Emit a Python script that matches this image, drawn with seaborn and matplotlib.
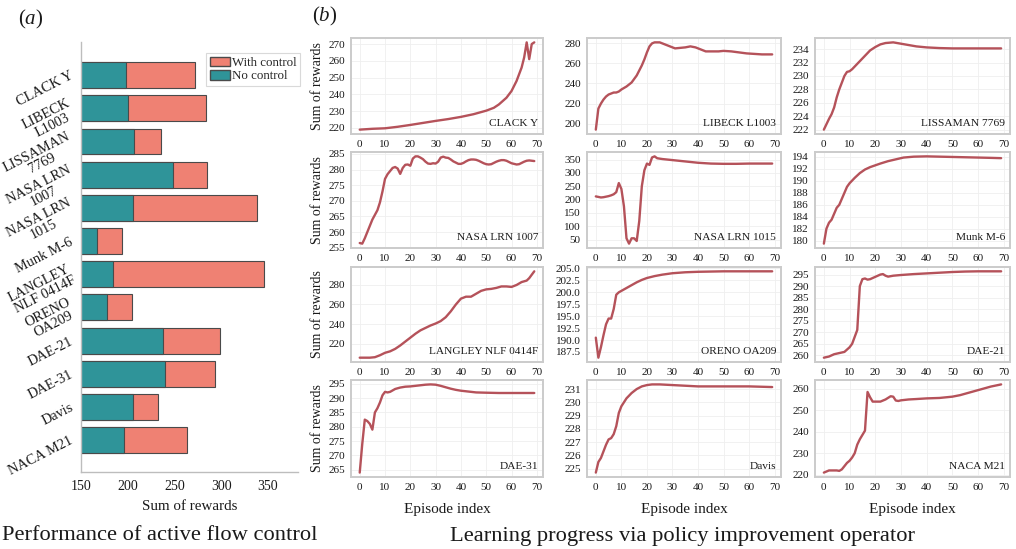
import matplotlib
matplotlib.use("Agg")
import matplotlib.pyplot as plt
import seaborn as sns
import pandas as pd
from matplotlib.patches import Patch

# ---------------- data: panel (a) ----------------
airfoils = ["CLACK Y", "LIBECK\nL1003", "LISSAMAN\n7769", "NASA LRN\n1007", "NASA LRN\n1015",
            "Munk M-6", "LANGLEY\nNLF 0414F", "ORENO\nOA209", "DAE-21", "DAE-31", "Davis", "NACA M21"]
no_control = [198, 200, 207, 249, 205.5, 167, 185, 178, 237.5, 239.5, 205.5, 196]
with_control = [272.5, 283.5, 235.5, 284.5, 338, 194.5, 346, 205, 298.5, 293.5, 232.5, 264]
bar_xticks = [150, 200, 250, 300, 350]

# ---------------- data: panel (b) ----------------
clack_ep = [0, 5, 10, 15, 20, 25, 30, 35, 40, 45, 50, 53, 55, 58, 60, 62, 64, 65, 66, 67, 68, 69]
clack_val = [219, 219.5, 219.8, 220.7, 221.8, 223, 224.2, 225.3, 226.6, 228.2, 230.3, 232, 234, 238,
             242, 248, 256, 262, 271, 261, 270, 271]
clack_ticks = [220, 230, 240, 250, 260, 270]

libeck_ep = [0, 1, 2, 3, 4, 5, 6, 7, 8, 9, 10, 12, 14, 16, 18, 19, 20, 21, 22, 23, 25, 27, 29, 31, 33,
             35, 37, 39, 41, 43, 45, 48, 50, 53, 56, 59, 62, 65, 69]
libeck_val = [194, 215, 220, 224, 227, 229, 230, 231, 231, 232, 234, 237, 241, 248, 258, 264, 271, 277,
              280, 281, 281, 279, 277, 275, 275.5, 276, 277, 276, 274, 272, 272, 272, 272.5, 272, 271,
              270, 269.5, 269, 269]
libeck_ticks = [200, 220, 240, 260, 280]

liss_ep = [0, 1, 2, 3, 4, 5, 6, 7, 8, 9, 10, 11, 12, 14, 16, 18, 20, 22, 24, 27, 30, 33, 36, 40, 45,
           50, 60, 69]
liss_val = [222, 222.8, 223.6, 224.3, 225.3, 226.8, 228, 229, 230, 230.6, 230.7, 231, 231.4, 232.2,
            233, 233.8, 234.3, 234.7, 234.9, 235, 234.8, 234.6, 234.4, 234.25, 234.15, 234.1, 234.1,
            234.1]
liss_ticks = [222, 224, 226, 228, 230, 232, 234]

lrn1007_ep = list(range(70))
lrn1007_val = [256.5, 256.3, 258, 260, 262, 264, 265.5, 267, 269.5, 273, 277, 278.5, 279.5, 280.5,
               280.8, 280.3, 278.6, 280.5, 281.5, 281.6, 281.2, 283.5, 284.2, 284.2, 283.8, 283.3,
               282.5, 281.9, 281.8, 282, 281.9, 282.5, 283.8, 284.1, 283.8, 283.7, 283.2, 282.6,
               282.2, 281.8, 281.8, 282.1, 282.6, 283, 283.2, 283.2, 283.1, 282.8, 282.4, 282.0,
               281.7, 281.6, 281.7, 282.1, 282.5, 282.8, 283.0, 283.0, 282.8, 282.4, 282.0, 281.8,
               281.6, 281.7, 282.1, 282.5, 282.8, 282.9, 282.8, 282.7]
lrn1007_ticks = [255, 260, 265, 270, 275, 280, 285]

lrn1015_ep = [0, 1, 2, 3, 4, 5, 6, 7, 8, 9, 10, 11, 12, 13, 14, 15, 16, 17, 18, 19, 20, 21, 22, 23,
              24, 26, 28, 30, 33, 36, 40, 45, 50, 55, 60, 65, 69]
lrn1015_val = [212, 210, 208, 209, 211, 213, 216, 220, 228, 262, 240, 175, 55, 35, 55, 55, 45, 120,
               250, 310, 335, 330, 358, 362, 355, 352, 350, 348, 345, 342, 338, 335, 334, 334, 335,
               335, 335]
lrn1015_ticks = [50, 100, 150, 200, 250, 300, 350]

munk_ep = [0, 1, 2, 3, 4, 5, 6, 7, 8, 9, 10, 12, 14, 16, 18, 20, 22, 25, 28, 31, 35, 40, 45, 50, 55,
           60, 65, 69]
munk_val = [179.5, 182, 183, 183.5, 184.5, 185.5, 186, 187, 188, 189, 189.6, 190.5, 191.3, 191.9,
            192.3, 192.6, 192.9, 193.3, 193.6, 193.9, 194.05, 194.1, 194.05, 194.0, 193.95, 193.9,
            193.85, 193.8]
munk_ticks = [180, 182, 184, 186, 188, 190, 192, 194]

langley_ep = [0, 2, 4, 6, 8, 10, 12, 14, 16, 18, 20, 22, 24, 26, 28, 30, 32, 34, 36, 38, 40, 42, 44,
              46, 48, 50, 52, 54, 56, 58, 60, 62, 64, 66, 67, 69]
langley_val = [205.5, 205.5, 205.5, 206, 208, 210.5, 212, 214.5, 218, 222, 226, 230, 233.5, 236,
               238.5, 240.5, 243, 247, 253, 260, 266, 268, 268, 271, 274, 275.5, 276, 277, 278.5,
               278.5, 278, 280, 283, 284.5, 287, 294]
langley_ticks = [220, 240, 260, 280]

oreno_ep = [0, 1, 2, 3, 4, 5, 6, 7, 8, 9, 10, 12, 14, 16, 18, 20, 23, 26, 30, 35, 40, 50, 60, 69]
oreno_val = [190.5, 186.3, 188.5, 191, 193.3, 194.5, 194.5, 196.5, 199.5, 200, 200.3, 200.9, 201.5,
             202.1, 202.6, 203, 203.4, 203.7, 204, 204.2, 204.3, 204.4, 204.4, 204.4]
oreno_ticks = [187.5, 190.0, 192.5, 195.0, 197.5, 200.0, 202.5, 205.0]

dae21_ep = [0, 2, 4, 6, 8, 10, 11, 12, 13, 14, 15, 16, 17, 18, 20, 22, 23, 24, 25, 27, 30, 35, 40,
            45, 50, 55, 60, 65, 69]
dae21_val = [259, 259.5, 260.5, 261, 261.5, 263.5, 265, 268, 271, 290, 293, 293.3, 292.8, 293, 294,
             295, 295.2, 294.5, 294.1, 294.5, 294.8, 295.2, 295.5, 295.8, 296.1, 296.3, 296.4, 296.4,
             296.4]
dae21_ticks = [260, 265, 270, 275, 280, 285, 290, 295]

dae31_ep = [0, 1, 2, 3, 4, 5, 6, 7, 8, 9, 10, 11, 12, 14, 16, 18, 20, 22, 24, 26, 28, 30, 32, 34, 36,
            38, 40, 43, 46, 50, 55, 60, 69]
dae31_val = [264, 274, 282.5, 282, 281, 279, 285, 286.5, 288.5, 291, 292.2, 292, 292.2, 293.2,
             293.7, 294, 294.1, 294.3, 294.5, 294.7, 294.8, 294.7, 294.3, 293.8, 293.3, 292.9, 292.6,
             292.3, 292.0, 291.9, 291.8, 291.8, 291.8]
dae31_ticks = [265, 270, 275, 280, 285, 290, 295]

davis_ep = [0, 1, 2, 3, 4, 5, 6, 7, 8, 9, 10, 11, 12, 14, 16, 18, 20, 22, 25, 30, 35, 40, 50, 60, 69]
davis_val = [224.7, 225.5, 225.8, 226.3, 226.8, 227.2, 227.3, 227.6, 228.2, 229.2, 229.7, 230.0,
             230.3, 230.7, 231.0, 231.2, 231.3, 231.35, 231.35, 231.3, 231.25, 231.2, 231.2, 231.2,
             231.15]
davis_ticks = [225, 226, 227, 228, 229, 230, 231]

nacam21_ep = [0, 1, 2, 3, 4, 5, 6, 7, 8, 9, 10, 11, 12, 13, 14, 15, 16, 17, 18, 19, 20, 22, 24, 26,
              27, 28, 29, 30, 33, 36, 40, 45, 50, 53, 56, 59, 62, 65, 69]
nacam21_val = [221, 221.5, 222, 222, 222, 222, 221.8, 222.5, 224, 225.5, 226.5, 228, 230, 234,
               236.5, 238.5, 240.5, 258.5, 256, 254, 254, 254, 255, 256.5, 256.3, 254.5, 254.3,
               254.6, 255, 255.2, 255.5, 255.7, 256.3, 257, 258, 259, 260, 261, 262]
nacam21_ticks = [220, 230, 240, 250, 260]

panel_names = ["CLACK Y", "LIBECK L1003", "LISSAMAN 7769", "NASA LRN 1007", "NASA LRN 1015",
               "Munk M-6", "LANGLEY NLF 0414F", "ORENO OA209", "DAE-21", "DAE-31", "Davis",
               "NACA M21"]
panel_eps = [clack_ep, libeck_ep, liss_ep, lrn1007_ep, lrn1015_ep, munk_ep, langley_ep, oreno_ep,
             dae21_ep, dae31_ep, davis_ep, nacam21_ep]
panel_vals = [clack_val, libeck_val, liss_val, lrn1007_val, lrn1015_val, munk_val, langley_val,
              oreno_val, dae21_val, dae31_val, davis_val, nacam21_val]
panel_ticks = [clack_ticks, libeck_ticks, liss_ticks, lrn1007_ticks, lrn1015_ticks, munk_ticks,
               langley_ticks, oreno_ticks, dae21_ticks, dae31_ticks, davis_ticks, nacam21_ticks]
episode_ticks = [0, 10, 20, 30, 40, 50, 60, 70]

# ---------------- style ----------------
sns.set_theme(style="white")
plt.rcParams["font.family"] = ["Liberation Serif", "DejaVu Serif"]
plt.rcParams["mathtext.fontset"] = "custom"
plt.rcParams["mathtext.rm"] = "Liberation Serif"
plt.rcParams["mathtext.it"] = "Liberation Serif:italic"

TEAL = "#2f9499"
SALMON = "#ef8173"
LINE = "#b5525a"
SPINE = "#cbcbcb"
TXT = "#1a1a1a"

W, H = 1016, 549
fig = plt.figure(figsize=(W / 100, H / 100), dpi=100)


def box(x0, top, x1, bot):
    return [x0 / W, 1 - bot / H, (x1 - x0) / W, (bot - top) / H]


# ---------------- panel (a) ----------------
axa = fig.add_axes(box(80.7, 42, 298, 472))
dfa = pd.DataFrame({"airfoil": airfoils, "with": with_control, "without": no_control})
sns.barplot(data=dfa, x="with", y="airfoil", orient="h", color=SALMON, saturation=1,
            width=0.78, edgecolor="#4a4a4a", linewidth=0.8, ax=axa)
sns.barplot(data=dfa, x="without", y="airfoil", orient="h", color=TEAL, saturation=1,
            width=0.78, edgecolor="#4a4a4a", linewidth=0.8, ax=axa)
axa.set_xlim(150, 382)
axa.set_ylim(11.96, -1.0)
axa.set_xticks(bar_xticks)
axa.set_xticklabels([str(t) for t in bar_xticks], fontsize=10, color=TXT)
axa.set_yticks(range(len(airfoils)))
axa.set_yticklabels(airfoils, fontsize=10.3, color=TXT, rotation=27, ha="right", va="center",
                    rotation_mode="anchor", multialignment="center", linespacing=0.95)
axa.set_xlabel("Sum of rewards", fontsize=10.8, color=TXT, labelpad=5)
axa.set_ylabel("")
for s in ["top", "right"]:
    axa.spines[s].set_visible(False)
for s in ["left", "bottom"]:
    axa.spines[s].set_color("#bdbdbd")
    axa.spines[s].set_linewidth(1.0)
axa.tick_params(axis="both", length=3, color="#bdbdbd", width=0.8, pad=3)
leg = axa.legend(handles=[Patch(facecolor=SALMON, edgecolor="#4a4a4a", label="With control"),
                          Patch(facecolor=TEAL, edgecolor="#4a4a4a", label="No control")],
                 loc="upper right", bbox_to_anchor=(1.01, 0.975), borderaxespad=0, fontsize=9.3,
                 frameon=True, fancybox=False, handlelength=1.5, handleheight=0.75,
                 handletextpad=0.15, borderpad=0.3, labelspacing=0.1)
leg.get_frame().set_edgecolor("#d0d0d0")
leg.get_frame().set_linewidth(0.8)

# ---------------- panel (b) ----------------
cols = [(351, 543), (587, 781), (815, 1010)]
rows = [(38, 134), (152, 248), (267, 362), (380, 477)]
for i, name in enumerate(panel_names):
    r, c = divmod(i, 3)
    ax = fig.add_axes(box(cols[c][0], rows[r][0], cols[c][1], rows[r][1]))
    dfp = pd.DataFrame({"episode": panel_eps[i], "reward": panel_vals[i]})
    sns.lineplot(data=dfp, x="episode", y="reward", color=LINE, linewidth=1.7, ax=ax)
    ax.set_xticks(episode_ticks)
    ax.set_yticks(panel_ticks[i])
    if name == "ORENO OA209":
        ax.set_yticklabels([f"{t:.1f}" for t in panel_ticks[i]])
    ax.tick_params(axis="both", labelsize=8, labelcolor=TXT, length=2.5, color=SPINE, pad=2)
    ax.grid(True, color="#efefef", linewidth=0.6)
    for s in ax.spines.values():
        s.set_color(SPINE)
        s.set_linewidth(1.4)
    ax.set_xlabel("Episode index" if r == 3 else "", fontsize=11, color=TXT, labelpad=8)
    ax.set_ylabel("Sum of rewards" if c == 0 else "", fontsize=10, color=TXT, labelpad=3)
    ax.text(0.975, 0.06, name, transform=ax.transAxes, ha="right", va="bottom", fontsize=8.2,
            color=TXT)

# ---------------- labels ----------------
fig.text(18 / W, 1 - 19 / H, r"$(\mathit{a})$", fontsize=15, va="center", ha="left", color=TXT)
fig.text(312 / W, 1 - 16 / H, r"$(\mathit{b})$", fontsize=15, va="center", ha="left", color=TXT)
fig.text(160 / W, 1 - 536 / H, "Performance of active flow control", fontsize=16.2, ha="center",
         va="center", color=TXT)
fig.text(683 / W, 1 - 536 / H, "Learning progress via policy improvement operator", fontsize=16.2,
         ha="center", va="center", color=TXT)

fig.savefig("out.png", dpi=100)
